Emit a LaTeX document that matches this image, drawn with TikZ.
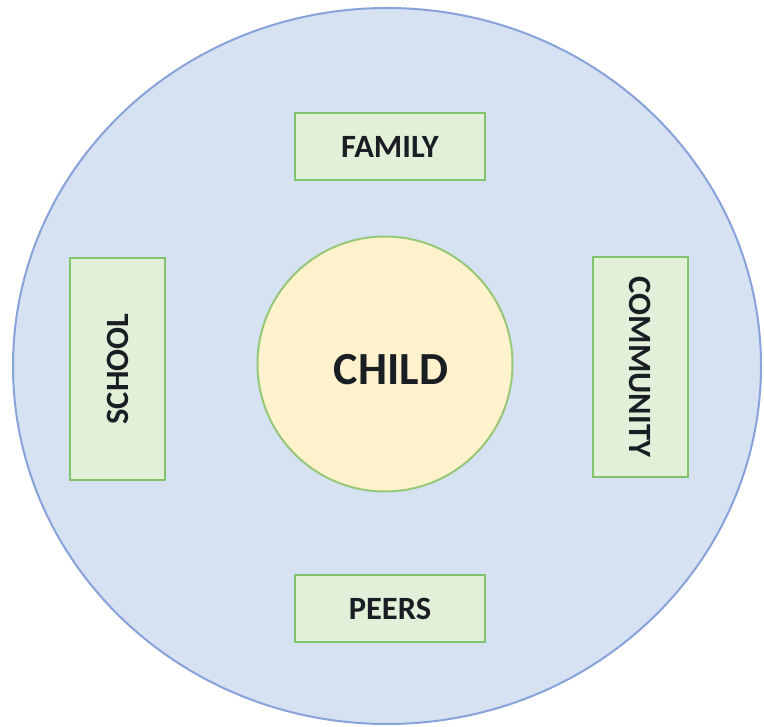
\documentclass[tikz,border=0pt]{standalone}
\usepackage{fontspec}
\setmainfont{Carlito}
\usetikzlibrary{shapes.geometric}
\definecolor{outerfill}{RGB}{214,225,242}
\definecolor{outerdraw}{RGB}{135,163,218}
\definecolor{boxfill}{RGB}{226,240,217}
\definecolor{boxdraw}{RGB}{130,195,110}
\definecolor{childfill}{RGB}{255,242,204}
\definecolor{childdraw}{RGB}{150,200,120}
\definecolor{txt}{RGB}{25,30,35}
\begin{document}
\begin{tikzpicture}[x=1pt,y=-1pt,
  lbl/.style={text=txt,font=\fontsize{32.5}{32.5}\selectfont\bfseries},
  ctxbox/.style={draw=boxdraw,fill=boxfill,line width=2pt,inner sep=0pt,lbl},
  childnode/.style={circle,draw=childdraw,fill=childfill,line width=2pt,
    minimum size=255pt,inner sep=0pt,text=txt,font=\fontsize{46}{46}\selectfont\bfseries}]
\useasboundingbox (0,0) rectangle (764,727);
\node[ellipse,draw=outerdraw,fill=outerfill,line width=2pt,
  minimum width=748pt,minimum height=716pt,inner sep=0pt] (outer) at (387,366) {};
\node[childnode] (child) at (385,364) {};
\node[text=txt,font=\fontsize{46}{46}\selectfont\bfseries] (childlbl) at (391,370) {CHILD};
\node[ctxbox,minimum width=190pt,minimum height=67pt] (family) at (390,146.5) {FAMILY};
\node[ctxbox,minimum width=190pt,minimum height=67pt] (peers) at (390,608.5) {PEERS};
\node[ctxbox,minimum width=95pt,minimum height=222pt] (schoolbox) at (117.5,369) {};
\node[rotate=90,lbl] (school) at (schoolbox.center) {SCHOOL};
\node[ctxbox,minimum width=95pt,minimum height=220pt] (communitybox) at (640.5,367) {};
\node[rotate=-90,lbl] (community) at (communitybox.center) {COMMUNITY};
\end{tikzpicture}
\end{document}
